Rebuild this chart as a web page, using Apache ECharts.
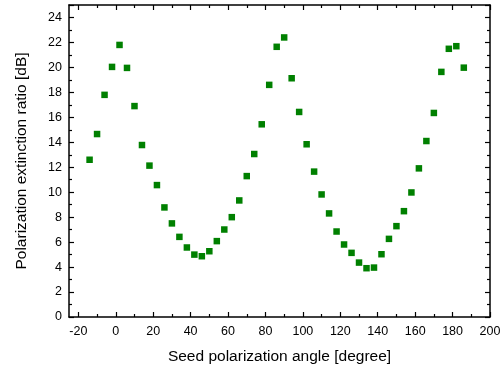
<!DOCTYPE html>
<html>
<head>
<meta charset="utf-8">
<script src="https://cdn.jsdelivr.net/npm/echarts@6/dist/echarts.min.js"></script>
<style>
  html, body { margin: 0; padding: 0; background: #fff; }
  #chart { width: 504px; height: 368px; }
</style>
</head>
<body>
<div id="chart"></div>
<script>
// 数据：种子偏振角 / 消光比
var angles = [-14, -10, -6, -2, 2, 6, 10, 14, 18, 22, 26, 30, 34, 38, 42, 46, 50, 54, 58, 62,
  66, 70, 74, 78, 82, 86, 90, 94, 98, 102, 106, 110, 114, 118, 122, 126, 130, 134, 138, 142,
  146, 150, 154, 158, 162, 166, 170, 174, 178, 182, 186];
var ratios = [12.6, 14.66, 17.8, 20.04, 21.8, 19.96, 16.9, 13.78, 12.13, 10.57, 8.78, 7.5, 6.42, 5.57, 5.0, 4.87, 5.27, 6.08, 7.01, 8.0,
  9.34, 11.29, 13.06, 15.44, 18.6, 21.65, 22.4, 19.13, 16.43, 13.84, 11.65, 9.82, 8.3, 6.85, 5.81, 5.14, 4.36, 3.91, 3.96, 5.03,
  6.26, 7.28, 8.48, 9.98, 11.91, 14.1, 16.35, 19.64, 21.49, 21.7, 19.98];
var xMajorTicks = [-20, 0, 20, 40, 60, 80, 100, 120, 140, 160, 180, 200];
var xMinorTicks = [-10, 10, 30, 50, 70, 90, 110, 130, 150, 170, 190];

var FONT = '"Liberation Sans", Arial, sans-serif';
var chart = echarts.init(document.getElementById('chart'));

// x 轴：主刻度、次刻度各一条
var makeX = function (pos, ticks, len, showLabel, showLine, name) {
  return {
    type: 'value', position: pos, min: -25, max: 200,
    name: name || '', nameLocation: 'middle', nameGap: 32,
    nameTextStyle: { fontFamily: FONT, fontSize: 15.5, color: '#000' },
    axisLine: { show: showLine, onZero: false, lineStyle: { color: '#000', width: 1.5 } },
    axisTick: { show: true, inside: true, length: len, customValues: ticks, lineStyle: { color: '#000', width: 1.2 } },
    axisLabel: { show: showLabel, customValues: ticks, margin: 8, fontFamily: FONT, fontSize: 12.5, color: '#000' },
    splitLine: { show: false }
  };
};
var makeY = function (pos, showLabel, name) {
  return {
    type: 'value', position: pos, min: 0, max: 25, interval: 2,
    name: name || '', nameLocation: 'middle', nameGap: 39,
    nameTextStyle: { fontFamily: FONT, fontSize: 15.5, color: '#000' },
    axisLine: { show: true, onZero: false, lineStyle: { color: '#000', width: 1.5 } },
    axisTick: { show: true, inside: true, length: 5, lineStyle: { color: '#000', width: 1.2 } },
    minorTick: { show: true, splitNumber: 2, length: 3, lineStyle: { color: '#000', width: 1.2 } },
    axisLabel: { show: showLabel, margin: 7, fontFamily: FONT, fontSize: 12.5, color: '#000',
      showMaxLabel: false },
    splitLine: { show: false }
  };
};

chart.setOption({
  animation: false,
  grid: { left: 69, right: 14, top: 5, bottom: 51, outerBoundsMode: 'none', containLabel: false },
  xAxis: [
    makeX('bottom', xMajorTicks, 5, true, true, 'Seed polarization angle [degree]'),
    makeX('bottom', xMinorTicks, 3, false, false),
    makeX('top', xMajorTicks, 5, false, true),
    makeX('top', xMinorTicks, 3, false, false)
  ],
  yAxis: [
    makeY('left', true, 'Polarization extinction ratio [dB]'),
    makeY('right', false)
  ],
  series: [{
    type: 'scatter',
    xAxisIndex: 0, yAxisIndex: 0,
    symbol: 'rect', symbolSize: 6.5,
    itemStyle: { color: '#008000', opacity: 1 },
    data: angles.map(function (a, i) { return [a, ratios[i]]; })
  }]
});
</script>
</body>
</html>
